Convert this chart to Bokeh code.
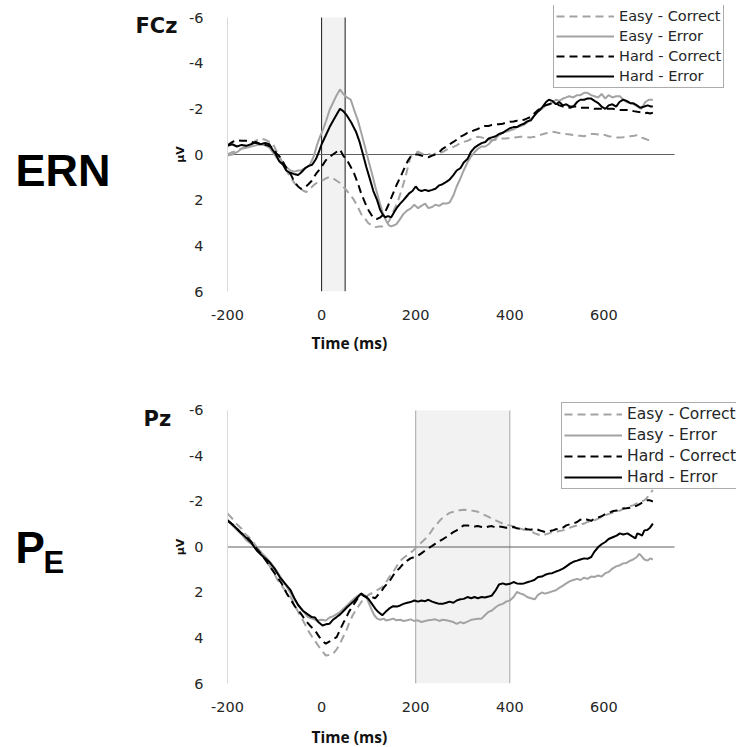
import math
from bokeh.plotting import figure
from bokeh.models import (Range1d, FixedTicker, BoxAnnotation, Legend,
                          LegendItem, Label)
from bokeh.layouts import column
from bokeh.embed import file_html
from bokeh.resources import INLINE

# ---------------- data ----------------
X_TICKS = [-200, 0, 200, 400, 600]
X_TICK_LABELS = ["-200", "0", "200", "400", "600"]
X_AXIS_SPAN = [-200, 750]
Y_TICKS = [-6, -4, -2, 0, 2, 4, 6]
Y_TICK_LABELS = ["-6", "-4", "-2", "0", "2", "4", "6"]
SERIES = ["Easy - Correct", "Easy - Error", "Hard - Correct", "Hard - Error"]
PANEL_TAGS = ["FCz", "Pz"]
X_TITLE = "Time (ms)"
Y_TITLE = "µV"
TOP_WINDOW = [0, 50]
BOTTOM_WINDOW = [200, 400]

# FCz (ERN)
fcz_ec_t = [-200,-190,-180,-171,-160,-150,-140,-130,-120,-111,-104,-96,-89,-80,-72,-66,-58,-50,-44,-38,-32,-25,-17,-8,2,9,17,25,32,39,46,50,58,64,69,77,84,92,99,106,114,122,129,137,144,152,158,163,170,178,184,189,197,205,212,220,227,235,242,250,258,265,272,280,287,295,302,310,318,325,332,340,347,355,362,370,377,385,392,400,408,415,423,430,437,445,453,460,468,475,483,490,498,505,513,520,528,535,543,550,558,565,573,580,588,595,603,610,618,626,634,641,650,656,664,671,678,686,692,698,704]
fcz_ec_v = [0.00,-0.10,-0.15,-0.26,-0.35,-0.45,-0.60,-0.70,-0.65,-0.55,-0.50,-0.15,0.10,0.50,0.80,0.98,1.25,1.40,1.50,1.60,1.64,1.50,1.35,1.20,1.13,1.05,0.98,1.05,1.15,1.25,1.40,1.50,1.70,1.85,2.00,2.30,2.60,2.80,3.00,3.10,3.18,3.15,3.15,3.05,2.90,2.50,2.25,2.00,1.55,1.00,0.50,0.10,-0.05,-0.12,-0.05,0.00,-0.02,0.03,-0.05,-0.05,-0.12,-0.20,-0.28,-0.33,-0.40,-0.50,-0.55,-0.60,-0.68,-0.72,-0.78,-0.75,-0.70,-0.66,-0.63,-0.65,-0.68,-0.70,-0.70,-0.72,-0.74,-0.76,-0.78,-0.78,-0.76,-0.75,-0.78,-0.82,-0.88,-0.92,-0.96,-1.00,-0.97,-0.94,-0.92,-0.90,-0.88,-0.85,-0.83,-0.82,-0.80,-0.85,-0.90,-0.90,-0.88,-0.85,-0.85,-0.80,-0.78,-0.75,-0.75,-0.76,-0.78,-0.80,-0.82,-0.85,-0.75,-0.70,-0.65,-0.63,-0.62]

fcz_ee_t = [-200,-190,-180,-170,-160,-150,-140,-130,-120,-111,-104,-97,-89,-80,-72,-66,-58,-50,-44,-35,-25,-17,-10,-4,3,10,17,25,32,39,46,54,62,70,77,85,92,100,107,114,122,129,137,143,148,154,159,166,174,182,189,197,205,212,220,227,235,242,250,257,265,272,280,287,295,302,310,317,325,332,340,348,355,362,370,377,385,392,400,408,415,423,430,437,445,453,460,468,477,485,492,498,505,513,520,526,535,543,550,558,565,573,580,588,595,603,610,618,626,634,641,648,656,664,672,680,688,696,704]
fcz_ee_v = [0.05,0.00,-0.10,-0.25,-0.30,-0.35,-0.40,-0.45,-0.40,-0.30,-0.10,0.10,0.30,0.45,0.60,0.70,0.75,0.70,0.70,0.60,0.45,0.10,-0.40,-0.75,-1.10,-1.50,-1.95,-2.30,-2.60,-2.85,-2.65,-2.50,-2.40,-1.90,-1.50,-0.90,-0.35,0.30,0.83,1.40,2.00,2.50,2.90,3.10,3.15,3.10,3.05,2.85,2.60,2.45,2.37,2.20,2.35,2.25,2.15,2.35,2.30,2.20,2.25,2.15,2.15,2.10,1.80,1.40,1.05,0.70,0.35,0.10,-0.10,-0.25,-0.35,-0.35,-0.45,-0.60,-0.70,-0.85,-0.95,-1.00,-1.05,-1.10,-1.20,-1.25,-1.30,-1.40,-1.55,-1.73,-1.90,-2.00,-2.15,-2.20,-2.30,-2.40,-2.35,-2.45,-2.50,-2.55,-2.50,-2.60,-2.60,-2.70,-2.70,-2.60,-2.55,-2.50,-2.65,-2.45,-2.60,-2.50,-2.55,-2.55,-2.40,-2.30,-2.25,-2.20,-2.10,-2.00,-2.30,-2.40,-2.40]

fcz_hc_t = [-200,-190,-180,-170,-156,-140,-126,-115,-104,-96,-89,-80,-72,-66,-58,-50,-44,-36,-28,-21,-12,-2,9,17,24,32,39,46,54,62,69,77,84,92,100,106,112,118,125,133,140,146,152,160,166,171,178,184,189,197,205,212,220,227,235,242,250,257,265,272,280,287,295,302,310,318,325,332,340,347,355,362,370,377,385,392,400,408,415,423,430,437,445,452,460,467,475,483,490,498,505,513,520,528,535,543,550,558,565,573,580,588,597,605,612,620,628,635,641,648,656,663,671,678,686,692,698,704]
fcz_hc_v = [-0.40,-0.55,-0.63,-0.60,-0.60,-0.50,-0.45,-0.40,-0.30,-0.05,0.10,0.40,0.70,0.85,1.20,1.40,1.50,1.45,1.30,1.15,0.85,0.60,0.25,0.10,0.00,-0.12,-0.22,0.05,0.25,0.55,0.83,1.25,1.70,2.10,2.45,2.65,2.80,2.82,2.75,2.60,2.30,2.00,1.70,1.30,1.05,0.83,0.50,0.25,0.10,0.00,0.00,0.05,0.10,0.12,0.05,0.00,-0.10,-0.25,-0.35,-0.45,-0.55,-0.65,-0.78,-0.85,-0.95,-1.00,-1.07,-1.12,-1.20,-1.25,-1.25,-1.30,-1.32,-1.33,-1.35,-1.40,-1.43,-1.45,-1.48,-1.50,-1.52,-1.58,-1.65,-1.80,-1.95,-2.05,-2.15,-2.20,-2.25,-2.25,-2.15,-2.10,-2.10,-2.05,-2.10,-2.10,-2.05,-2.05,-2.05,-2.05,-2.00,-2.00,-2.00,-2.00,-2.00,-2.00,-1.95,-1.95,-1.95,-1.95,-1.95,-1.90,-1.87,-1.85,-1.80,-1.83,-1.80,-1.83]

fcz_he_t = [-200,-190,-180,-170,-160,-150,-140,-130,-120,-111,-104,-97,-90,-82,-75,-67,-59,-50,-44,-35,-27,-20,-12,-6,0,8,17,25,32,39,46,54,63,73,80,88,95,103,110,118,124,129,135,141,148,155,161,167,174,180,186,193,200,206,212,220,227,235,242,250,257,265,272,280,287,295,302,310,317,325,332,340,348,355,362,370,377,385,392,400,408,415,423,430,437,445,452,458,464,470,477,483,490,498,505,513,520,528,535,543,550,558,565,573,580,588,595,603,610,618,626,633,641,648,656,662,670,677,686,693,700,704]
fcz_he_v = [-0.38,-0.45,-0.35,-0.42,-0.38,-0.45,-0.55,-0.45,-0.50,-0.45,-0.20,0.00,0.30,0.45,0.70,0.80,0.85,0.90,0.80,0.60,0.50,0.45,0.20,-0.10,-0.45,-0.80,-1.20,-1.50,-1.75,-2.00,-1.90,-1.70,-1.40,-1.00,-0.60,0.00,0.55,1.10,1.60,2.00,2.40,2.60,2.75,2.70,2.75,2.50,2.30,2.15,2.00,1.85,1.70,1.60,1.40,1.55,1.60,1.55,1.60,1.55,1.50,1.35,1.30,1.20,1.10,0.90,0.70,0.60,0.35,0.20,-0.10,-0.30,-0.40,-0.50,-0.55,-0.70,-0.75,-0.80,-0.90,-0.95,-1.05,-1.15,-1.20,-1.20,-1.30,-1.35,-1.45,-1.50,-1.70,-1.85,-1.95,-2.10,-2.30,-2.40,-2.35,-2.20,-2.30,-2.15,-2.20,-2.10,-2.10,-2.30,-2.40,-2.40,-2.45,-2.45,-2.35,-2.25,-2.10,-2.00,-2.15,-2.20,-2.10,-2.30,-2.40,-2.35,-2.25,-2.25,-2.15,-2.05,-2.10,-2.15,-2.10,-2.10]

# Pz (Pe)
pz_ec_t = [-200,-190,-180,-170,-164,-150,-138,-125,-115,-104,-95,-85,-74,-66,-57,-50,-43,-36,-28,-20,-10,0,9,16,24,32,39,47,54,58,66,77,85,92,100,110,118,129,137,144,152,158,163,170,178,186,195,205,212,220,227,235,240,246,253,258,265,272,280,287,295,302,310,318,325,332,340,347,355,362,370,377,385,392,400,408,415,423,430,437,445,453,460,468,475,483,490,498,505,513,520,528,535,543,550,558,565,573,580,588,595,603,610,618,626,634,641,648,655,662,670,677,686,693,700,704]
pz_ec_v = [-1.47,-1.25,-1.00,-0.80,-0.60,-0.35,0.00,0.40,0.70,1.03,1.40,1.70,2.00,2.20,2.55,2.85,3.10,3.37,3.70,3.95,4.25,4.55,4.77,4.75,4.70,4.50,4.25,3.90,3.60,3.37,3.00,2.64,2.40,2.20,2.10,2.00,1.90,1.76,1.55,1.32,1.10,0.90,0.73,0.55,0.42,0.30,0.15,-0.07,-0.20,-0.35,-0.50,-0.75,-0.90,-1.03,-1.20,-1.30,-1.40,-1.50,-1.55,-1.60,-1.62,-1.64,-1.62,-1.60,-1.58,-1.55,-1.45,-1.40,-1.32,-1.25,-1.17,-1.10,-1.03,-0.98,-0.95,-0.90,-0.85,-0.80,-0.76,-0.75,-0.70,-0.60,-0.55,-0.50,-0.55,-0.60,-0.66,-0.66,-0.70,-0.73,-0.78,-0.85,-0.90,-0.95,-0.98,-1.03,-1.10,-1.12,-1.17,-1.25,-1.32,-1.40,-1.45,-1.50,-1.55,-1.60,-1.68,-1.75,-1.80,-1.83,-1.92,-1.98,-2.05,-2.20,-2.40,-2.50]

pz_ee_t = [-200,-190,-180,-170,-160,-150,-138,-128,-119,-108,-96,-85,-74,-62,-51,-40,-29,-20,-10,0,9,17,24,32,39,47,54,62,69,77,84,90,95,100,107,112,118,125,132,137,144,152,159,167,174,182,189,197,205,212,220,227,235,242,250,257,265,272,280,287,295,302,310,318,325,332,340,347,355,362,370,377,385,392,400,408,415,423,430,437,445,453,460,468,475,483,490,498,505,513,520,528,535,543,550,558,565,573,580,588,595,603,610,618,626,634,641,648,656,662,670,675,680,686,693,698,704]
pz_ee_v = [-1.17,-0.95,-0.75,-0.55,-0.30,-0.15,0.00,0.25,0.44,0.70,1.03,1.40,1.76,2.15,2.50,2.80,3.08,3.15,3.23,3.20,3.23,3.10,3.05,2.95,2.86,2.70,2.57,2.40,2.27,2.15,2.05,2.10,2.20,2.45,2.79,3.00,3.15,3.20,3.15,3.23,3.20,3.15,3.22,3.20,3.25,3.22,3.18,3.25,3.22,3.30,3.25,3.22,3.20,3.18,3.25,3.20,3.22,3.25,3.30,3.38,3.30,3.35,3.28,3.20,3.18,3.15,3.15,3.00,2.85,2.79,2.65,2.55,2.50,2.40,2.35,2.20,1.98,2.05,2.10,2.20,2.25,2.30,2.10,2.00,2.05,2.00,1.95,1.90,1.80,1.70,1.60,1.50,1.45,1.40,1.45,1.35,1.40,1.30,1.32,1.25,1.30,1.15,1.10,0.95,0.85,0.80,0.72,0.70,0.60,0.55,0.44,0.30,0.40,0.55,0.60,0.50,0.55]

pz_hc_t = [-200,-190,-180,-170,-160,-150,-138,-125,-115,-104,-95,-85,-74,-66,-57,-44,-35,-25,-14,-5,3,9,17,24,32,40,47,50,58,66,69,77,84,90,99,107,114,120,127,133,140,146,152,160,167,174,182,189,197,205,212,220,227,235,242,250,258,265,272,280,287,295,302,310,318,325,332,340,347,355,362,370,377,385,392,400,408,415,423,430,437,445,453,460,468,475,483,490,498,505,513,520,528,535,543,550,558,565,573,580,588,595,603,610,620,628,634,641,648,655,662,670,677,686,692,698,704]
pz_hc_v = [-1.17,-1.00,-0.80,-0.60,-0.45,-0.25,0.07,0.40,0.70,1.03,1.30,1.60,2.05,2.30,2.60,2.93,3.20,3.45,3.67,3.95,4.15,4.25,4.15,4.05,3.96,3.60,3.30,3.20,2.85,2.60,2.50,2.25,2.05,2.15,2.23,2.20,2.25,2.10,1.95,1.76,1.60,1.45,1.25,1.05,0.90,0.73,0.60,0.50,0.44,0.38,0.28,0.15,0.05,-0.05,-0.15,-0.25,-0.35,-0.44,-0.55,-0.65,-0.73,-0.85,-0.95,-0.95,-0.92,-0.90,-0.92,-0.88,-0.85,-0.90,-0.92,-0.85,-0.90,-0.88,-0.85,-0.85,-0.88,-0.82,-0.80,-0.82,-0.78,-0.76,-0.80,-0.76,-0.70,-0.66,-0.70,-0.72,-0.78,-0.80,-0.85,-0.95,-1.00,-1.03,-1.10,-1.20,-1.25,-1.20,-1.15,-1.25,-1.30,-1.35,-1.45,-1.50,-1.58,-1.60,-1.65,-1.69,-1.70,-1.72,-1.76,-1.82,-1.90,-2.00,-2.05,-2.05,-2.00]

pz_he_t = [-200,-190,-180,-170,-160,-150,-138,-128,-120,-111,-100,-89,-78,-66,-58,-50,-40,-30,-21,-14,-7,2,9,17,24,32,40,47,54,62,70,77,84,90,99,107,114,120,129,136,144,152,160,167,174,182,189,197,205,212,220,227,235,242,250,257,265,272,280,287,295,302,310,318,325,332,340,347,355,362,370,377,385,392,400,408,415,423,430,437,445,452,460,468,475,483,490,498,505,513,520,528,535,543,550,558,565,573,580,588,595,603,610,620,627,634,641,650,656,662,667,671,677,681,686,692,698,704]
pz_he_v = [-1.17,-1.00,-0.80,-0.60,-0.40,-0.20,0.15,0.35,0.50,0.66,0.95,1.32,1.60,1.90,2.25,2.55,2.80,2.95,3.08,3.10,3.30,3.45,3.40,3.37,3.20,3.08,2.95,2.80,2.65,2.50,2.35,2.20,2.05,2.15,2.27,2.50,2.71,2.85,3.00,2.85,2.70,2.60,2.62,2.57,2.50,2.45,2.42,2.35,2.40,2.35,2.38,2.32,2.40,2.45,2.50,2.50,2.45,2.40,2.45,2.35,2.30,2.28,2.20,2.25,2.20,2.25,2.20,2.22,2.18,2.13,1.90,1.65,1.60,1.65,1.62,1.54,1.60,1.62,1.60,1.55,1.50,1.45,1.32,1.30,1.22,1.17,1.15,1.08,1.03,0.95,0.85,0.73,0.65,0.60,0.55,0.50,0.52,0.44,0.20,0.00,-0.12,-0.22,-0.35,-0.44,-0.50,-0.60,-0.55,-0.60,-0.52,-0.44,-0.38,-0.60,-0.55,-0.50,-0.73,-0.75,-0.85,-1.03]

# ---------------- styling ----------------
GRAY = "#a3a3a3"
BLACK = "#000000"
STYLES = [
    dict(line_color=GRAY, line_dash="8 5"),
    dict(line_color=GRAY, line_dash="solid"),
    dict(line_color=BLACK, line_dash="8 5"),
    dict(line_color=BLACK, line_dash="solid"),
]
TICK_FONT = "DejaVu Sans"
TEXT_COLOR = "#262626"
PX_PER_MS = 0.47053        # horizontal scale shared by both panels
FRAME_W = 509              # frame runs to the right edge so the legend is not clipped
X_END = X_AXIS_SPAN[0] + FRAME_W / PX_PER_MS


def make_panel(series, window, window_color, border_top, frame_h, border_bottom,
               y_top, legend_loc, legend_spacing, legend_font, tag, tag_xy,
               title_xy, ylab_xy, big_labels):
    p = figure(frame_width=FRAME_W, frame_height=frame_h,
               min_border_left=227, min_border_right=0,
               min_border_top=border_top, min_border_bottom=border_bottom,
               x_range=Range1d(X_AXIS_SPAN[0], X_END),
               y_range=Range1d(Y_TICKS[-1], y_top),
               output_backend="svg", toolbar_location=None,
               background_fill_color="white", border_fill_color="white")
    p.outline_line_color = None
    p.grid.visible = False

    # axes
    p.xaxis.ticker = FixedTicker(ticks=X_TICKS)
    p.xaxis.major_label_overrides = dict(zip(X_TICKS, X_TICK_LABELS))
    p.yaxis.ticker = FixedTicker(ticks=Y_TICKS)
    p.yaxis.major_label_overrides = dict(zip(Y_TICKS, Y_TICK_LABELS))
    p.yaxis.bounds = (Y_TICKS[0], Y_TICKS[-1])
    for ax in (p.xaxis, p.yaxis):
        ax.major_tick_line_color = None
        ax.minor_tick_line_color = None
        ax.major_label_text_font = TICK_FONT
        ax.major_label_text_font_size = "14.5px"
        ax.major_label_text_color = TEXT_COLOR
    p.xaxis.axis_line_color = None
    p.xaxis.major_label_standoff = 12
    p.yaxis.axis_line_color = "#d9d9d9"
    p.yaxis.major_label_standoff = 18

    # analysis window
    p.add_layout(BoxAnnotation(left=window[0], right=window[1],
                               top=Y_TICKS[0], bottom=Y_TICKS[-1],
                               fill_color="#f2f2f2", fill_alpha=1,
                               line_color=None, level="underlay"))
    p.segment(x0=window, y0=[Y_TICKS[0]] * 2, x1=window, y1=[Y_TICKS[-1]] * 2,
              line_color=window_color, line_width=1)
    # zero line
    p.segment(x0=[X_AXIS_SPAN[0]], y0=[0], x1=[X_AXIS_SPAN[1]], y1=[0],
              line_color="#5f5f5f", line_width=1.2)

    items = []
    for name, (t, v), st in zip(SERIES, series, STYLES):
        r = p.line(t, v, line_width=2, **st)
        items.append(LegendItem(label=name, renderers=[r]))

    leg = Legend(items=items, location=legend_loc,
                 label_text_font=TICK_FONT, label_text_font_size=legend_font,
                 label_text_color=TEXT_COLOR,
                 glyph_width=58, glyph_height=18, label_height=18,
                 label_standoff=5, spacing=legend_spacing, padding=2,
                 border_line_color="#595959", border_line_width=1,
                 background_fill_color="white", background_fill_alpha=1)
    p.add_layout(leg)

    # texts outside the frame live in the side panels
    p.add_layout(Label(x=tag_xy[0], y=tag_xy[1], text=tag,
                       text_font="DejaVu Sans", text_font_style="bold",
                       text_font_size="21px", text_color="#111111",
                       text_align="left", text_baseline="middle"), "left")
    p.add_layout(Label(x=ylab_xy[0], y=ylab_xy[1], text=Y_TITLE, angle=math.pi / 2,
                       text_font="DejaVu Sans", text_font_style="bold",
                       text_font_size="11px", text_color="#111111",
                       text_align="center", text_baseline="middle"), "left")
    for (txt, x, y, size) in big_labels:
        p.add_layout(Label(x=x, y=y, text=txt,
                           text_font="Liberation Sans", text_font_style="bold",
                           text_font_size=size, text_color="#000000",
                           text_align="left", text_baseline="middle"), "left")
    p.add_layout(Label(x=title_xy[0], y=title_xy[1], text=X_TITLE,
                       text_font="Open Sans", text_font_style="bold",
                       text_font_size="15.5px", text_color="#111111",
                       text_align="center", text_baseline="middle"), "below")
    return p


top = make_panel(
    [(fcz_ec_t, fcz_ec_v), (fcz_ee_t, fcz_ee_v), (fcz_hc_t, fcz_hc_v), (fcz_he_t, fcz_he_v)],
    TOP_WINDOW, "#1a1a1a", 5, 286, 101, -6.526, (326, 203), 2, "14.5px",
    PANEL_TAGS[0], (-395.5, -5.65), (59, 8.25), (-299.9, 0),
    [("ERN", -650.5, 0.70, "45px")])

bottom = make_panel(
    [(pz_ec_t, pz_ec_v), (pz_ee_t, pz_ee_v), (pz_hc_t, pz_hc_v), (pz_he_t, pz_he_v)],
    BOTTOM_WINDOW, "#a6a6a6", 6, 285, 64, -6.527, (334, 194), 3, "15.5px",
    PANEL_TAGS[1], (-378.5, -5.63), (59, 8.33), (-299.9, 0),
    [("P", -650.5, 0.04, "44px"), ("E", -591.0, 0.68, "31px")])

layout = column(top, bottom, spacing=0)
open("out.html", "w").write(file_html(layout, INLINE))
